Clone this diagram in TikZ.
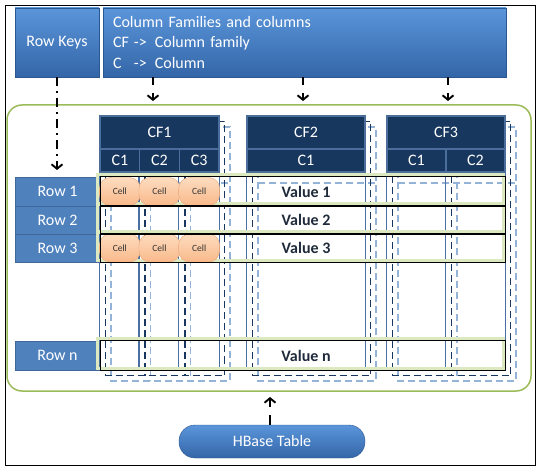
\documentclass[tikz,border=0pt]{standalone}
\usepackage{fontspec}
\setmainfont{Carlito}
\usetikzlibrary{arrows.meta,calc}
\definecolor{boxtop}{HTML}{5B95DA}
\definecolor{boxbot}{HTML}{3366A8}
\definecolor{keyblue}{HTML}{4F81BD}
\definecolor{navy}{HTML}{17375E}
\definecolor{hdrline}{HTML}{4A6D9C}
\definecolor{colblue}{HTML}{4A6FA5}
\definecolor{lightdash}{HTML}{95B3D7}
\definecolor{framegreen}{HTML}{9BBB59}
\definecolor{glowgreen}{HTML}{DCE8C0}
\definecolor{celltop}{HTML}{FDDCC0}
\definecolor{cellbot}{HTML}{F9B98A}
\definecolor{celledge}{HTML}{EBA574}
\definecolor{valtext}{HTML}{1F2A3A}

\begin{document}
\begin{tikzpicture}[x=1pt,y=1pt]
\tikzstyle{every node}+=[inner sep=0pt]
\tikzstyle{topbox}=[rectangle, top color=boxtop, bottom color=boxbot, draw=boxbot!85!black, text=white, font=\fontsize{16}{20.5}\selectfont]
\tikzstyle{keybox}=[rectangle, fill=keyblue, draw=keyblue!80!black, text=white, minimum width=85pt, font=\fontsize{16}{19}\selectfont]
\tikzstyle{cfhead}=[rectangle, fill=navy, draw=hdrline, line width=1.2pt, text=white, font=\fontsize{16}{19}\selectfont]
\tikzstyle{cellbox}=[rectangle, rounded corners=11pt, top color=celltop, bottom color=cellbot, draw=celledge, minimum width=41pt, minimum height=28pt, text=black!80, font=\fontsize{9.5}{11}\selectfont]
\tikzstyle{valnode}=[text=valtext, font=\fontsize{16}{19}\selectfont\bfseries]
\tikzstyle{colline}=[colblue, line width=1.3pt]
\tikzstyle{darkcopy}=[navy, line width=1.4pt, dash pattern=on 7pt off 4pt]
\tikzstyle{lightcopy}=[lightdash, line width=1.4pt, dash pattern=on 7pt off 4pt]
\tikzstyle{glow}=[glowgreen, line width=3pt]
\tikzstyle{rowline}=[black, line width=1.2pt]
\tikzstyle{flow}=[black, line width=1.9pt, -{Straight Barb[length=4.5pt,width=11pt]}]
\useasboundingbox (0,0) rectangle (541,-470);
\draw [black, line width=0.8pt] (5,-5) rectangle (535,-465);
\draw [framegreen, line width=1.5pt, rounded corners=15pt] (7,-105) rectangle (531,-391);
\draw [lightcopy] (111,-127) rectangle (230,-381);
\draw [lightcopy] (150.67,-127) -- (150.67,-381);
\draw [lightcopy] (190.33,-127) -- (190.33,-381);
\draw [lightcopy] (111,-183) -- (230,-183);
\draw [lightcopy] (258,-127) rectangle (376,-381);
\draw [lightcopy] (258,-183) -- (376,-183);
\draw [lightcopy] (398,-127) rectangle (516,-381);
\draw [lightcopy] (457,-127) -- (457,-381);
\draw [lightcopy] (398,-183) -- (516,-183);
\draw [darkcopy] (105.5,-121.5) rectangle (224.5,-375.5);
\draw [darkcopy] (145.17,-121.5) -- (145.17,-375.5);
\draw [darkcopy] (184.83,-121.5) -- (184.83,-375.5);
\draw [darkcopy] (252.5,-121.5) rectangle (370.5,-375.5);
\draw [darkcopy] (392.5,-121.5) rectangle (510.5,-375.5);
\draw [darkcopy] (451.5,-121.5) -- (451.5,-375.5);
\node [cfhead, minimum width=119pt, minimum height=33pt] (cf1) at (159.5,-132.5) {CF1};
\node [cfhead, minimum width=39.67pt, minimum height=23pt] (c11) at (119.83,-160.5) {C1};
\node [cfhead, minimum width=39.67pt, minimum height=23pt] (c12) at (159.5,-160.5) {C2};
\node [cfhead, minimum width=39.67pt, minimum height=23pt] (c13) at (199.17,-160.5) {C3};
\node [cfhead, minimum width=118pt, minimum height=33pt] (cf2) at (306,-132.5) {CF2};
\node [cfhead, minimum width=118pt, minimum height=23pt] (c21) at (306,-160.5) {C1};
\node [cfhead, minimum width=118pt, minimum height=33pt] (cf3) at (446,-132.5) {CF3};
\node [cfhead, minimum width=59pt, minimum height=23pt] (c31) at (416.5,-160.5) {C1};
\node [cfhead, minimum width=59pt, minimum height=23pt] (c32) at (475.5,-160.5) {C2};
\node [keybox, minimum height=29pt] (row1) at (57.5,-191.5) {Row 1};
\node [keybox, minimum height=28pt] (row2) at (57.5,-220) {Row 2};
\node [keybox, minimum height=28pt] (row3) at (57.5,-248) {Row 3};
\node [keybox, minimum height=29pt] (rown) at (57.5,-355.5) {Row n};
\draw [colline] (c11.south west) -- (c11.south west |- rown.south);
\draw [colline] (c12.south west) -- (c12.south west |- rown.south);
\draw [colline] (c13.south west) -- (c13.south west |- rown.south);
\draw [colline] (c13.south east) -- (c13.south east |- rown.south);
\draw [colline] (c21.south west) -- (c21.south west |- rown.south);
\draw [colline] (c21.south east) -- (c21.south east |- rown.south);
\draw [colline] (c31.south west) -- (c31.south west |- rown.south);
\draw [colline] (c32.south west) -- (c32.south west |- rown.south);
\draw [colline] (c32.south east) -- (c32.south east |- rown.south);
\draw [glow] ($(row1.north east)+(-2.5,2)$) rectangle ($(row1.south -| cf3.east)+(-2.5,2)$);
\draw [glow] ($(row2.north east)+(-2.5,2)$) rectangle ($(row2.south -| cf3.east)+(-2.5,2)$);
\draw [glow] ($(row3.north east)+(-2.5,2)$) rectangle ($(row3.south -| cf3.east)+(-2.5,2)$);
\draw [glow] ($(rown.north east)+(-2.5,2)$) rectangle ($(rown.south -| cf3.east)+(-2.5,2)$);
\node [cellbox] (cell11) at (c11 |- row1) {Cell};
\node [cellbox] (cell12) at (c12 |- row1) {Cell};
\node [cellbox] (cell13) at (c13 |- row1) {Cell};
\node [cellbox] (cell31) at (c11 |- row3) {Cell};
\node [cellbox] (cell32) at (c12 |- row3) {Cell};
\node [cellbox] (cell33) at (c13 |- row3) {Cell};
\draw [rowline] (row1.north east) rectangle (row1.south -| cf3.east);
\draw [rowline] (row2.north east) rectangle (row2.south -| cf3.east);
\draw [rowline] (row3.north east) rectangle (row3.south -| cf3.east);
\draw [rowline] (rown.north east) rectangle (rown.south -| cf3.east);
\node [valnode] (val1) at (c21 |- row1) {Value 1};
\node [valnode] (val2) at (c21 |- row2) {Value 2};
\node [valnode] (val3) at (c21 |- row3) {Value 3};
\node [valnode] (valn) at (c21 |- rown) {Value n};
\node [topbox, minimum width=84pt, minimum height=69pt] (rowkeys) at (57,-42.5) {Row Keys};
\node [topbox, minimum width=403pt, minimum height=69pt, text width=383pt, align=left] (colfam) at (304.5,-42.5) {Column Families and columns\\\makebox[21pt][l]{CF}->\hspace{8pt}Column family\\\makebox[21pt][l]{C}->\hspace{8pt}Column};
\node [topbox, rounded corners=16pt, minimum width=186pt, minimum height=33pt] (hbase) at (272,-441.5) {HBase Table};
\coordinate (t0) at (57,-170);
\coordinate (t1) at (153,-101);
\coordinate (t2) at (303,-101);
\coordinate (t3) at (448,-101);
\coordinate (t4) at (270,-397);
\draw [flow, dash pattern=on 9pt off 5pt on 2pt off 5pt] (rowkeys.south) -- (t0);
\draw [flow, dash pattern=on 8pt off 8pt] (colfam.south -| t1) -- (t1);
\draw [flow, dash pattern=on 8pt off 8pt] (colfam.south -| t2) -- (t2);
\draw [flow, dash pattern=on 8pt off 8pt] (colfam.south -| t3) -- (t3);
\draw [flow, dash pattern=on 10pt off 8pt] (hbase.north -| t4) -- (t4);
\end{tikzpicture}
\end{document}
